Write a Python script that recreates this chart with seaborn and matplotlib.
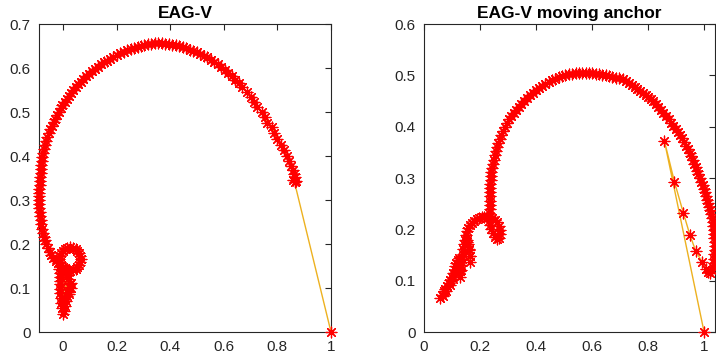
import matplotlib
matplotlib.use("Agg")
import matplotlib.pyplot as plt
import seaborn as sns
from matplotlib.ticker import FormatStrFormatter

# ---------- data ----------
# left panel: EAG-V trajectory (blob, loop, then the big arc)
left_x = [0.000, 0.004, -0.004, 0.008, -0.006, 0.012, -0.008, 0.015, -0.010, 0.018,
          -0.012, 0.022, -0.012, 0.025, -0.010, 0.020, -0.012, 0.018, -0.012, 0.012,
          -0.014, 0.006, 0.028, 0.030, 0.022,
          0.026, 0.047, 0.061, 0.067, 0.061, 0.047, 0.026, 0.006, -0.009, -0.015, -0.009, 0.006,
          0.036, 0.053, 0.063, 0.063, 0.053, 0.036, 0.016, -0.001, -0.011, -0.011, -0.001, 0.016,
          -0.012, -0.020, -0.028, -0.036, -0.043, -0.050, -0.056, -0.062, -0.067, -0.071,
          -0.075, -0.078, -0.081, -0.083, -0.085, -0.087, -0.088, -0.089, -0.089, -0.089,
          -0.089, -0.088, -0.087, -0.086, -0.085, -0.084, -0.083, -0.082, -0.080, -0.077,
          -0.074, -0.071, -0.067, -0.063, -0.058, -0.053, -0.047, -0.041, -0.035, -0.029,
          -0.023, -0.016, -0.009, -0.002, 0.006, 0.014, 0.022, 0.030, 0.039, 0.048,
          0.057, 0.066, 0.076, 0.086, 0.096, 0.107, 0.118, 0.129, 0.140, 0.152,
          0.164, 0.176, 0.188, 0.200, 0.213, 0.226, 0.239, 0.252, 0.265, 0.278,
          0.291, 0.304, 0.317, 0.330, 0.343, 0.356, 0.369, 0.382, 0.395, 0.408,
          0.421, 0.434, 0.447, 0.460, 0.473, 0.486, 0.499, 0.512, 0.525, 0.538,
          0.551, 0.564, 0.577, 0.590, 0.603, 0.616, 0.629, 0.642, 0.655, 0.668,
          0.685, 0.700, 0.712, 0.725, 0.741, 0.752, 0.763, 0.779, 0.789, 0.800,
          0.812, 0.824, 0.835, 0.844, 0.852, 0.858, 0.862, 0.866, 0.860, 0.868, 0.864]
left_y = [0.040, 0.048, 0.055, 0.060, 0.066, 0.071, 0.077, 0.082, 0.088, 0.092,
          0.098, 0.102, 0.108, 0.110, 0.116, 0.120, 0.125, 0.129, 0.134, 0.138,
          0.143, 0.146, 0.100, 0.112, 0.086,
          0.139, 0.143, 0.153, 0.166, 0.180, 0.189, 0.193, 0.189, 0.180, 0.166, 0.153, 0.143,
          0.142, 0.148, 0.160, 0.172, 0.184, 0.190, 0.190, 0.184, 0.172, 0.160, 0.148, 0.142,
          0.150, 0.156, 0.162, 0.168, 0.174, 0.182, 0.190, 0.199, 0.208, 0.217,
          0.226, 0.235, 0.245, 0.254, 0.263, 0.272, 0.281, 0.290, 0.299, 0.308,
          0.317, 0.326, 0.335, 0.344, 0.353, 0.362, 0.371, 0.380, 0.389, 0.398,
          0.407, 0.416, 0.425, 0.434, 0.443, 0.452, 0.461, 0.469, 0.477, 0.485,
          0.493, 0.501, 0.509, 0.516, 0.523, 0.530, 0.537, 0.544, 0.551, 0.557,
          0.563, 0.569, 0.575, 0.581, 0.587, 0.593, 0.598, 0.603, 0.608, 0.613,
          0.617, 0.621, 0.625, 0.629, 0.633, 0.636, 0.640, 0.643, 0.646, 0.648,
          0.650, 0.652, 0.654, 0.655, 0.656, 0.656, 0.656, 0.655, 0.654, 0.653,
          0.652, 0.650, 0.647, 0.645, 0.642, 0.639, 0.636, 0.632, 0.628, 0.624,
          0.619, 0.614, 0.608, 0.602, 0.596, 0.589, 0.581, 0.573, 0.565, 0.556,
          0.546, 0.535, 0.523, 0.512, 0.500, 0.488, 0.476, 0.466, 0.452, 0.438,
          0.425, 0.413, 0.401, 0.389, 0.378, 0.368, 0.360, 0.352, 0.346, 0.344, 0.340]

# right panel: EAG-V moving anchor trajectory
right_x = [0.058, 0.064, 0.068, 0.070, 0.076, 0.080, 0.082, 0.088, 0.092, 0.094,
           0.100, 0.104, 0.105, 0.110, 0.113, 0.112, 0.116, 0.120, 0.124, 0.128,
           0.130, 0.131, 0.130, 0.130, 0.131, 0.134, 0.138, 0.141, 0.143, 0.147,
           0.152, 0.158, 0.162, 0.165, 0.165, 0.164, 0.160, 0.154, 0.150, 0.153,
           0.158, 0.165, 0.172, 0.180, 0.189, 0.198, 0.207, 0.216, 0.225, 0.234,
           0.243, 0.252, 0.260, 0.267, 0.272, 0.273, 0.268, 0.260, 0.252, 0.245,
           0.240, 0.236, 0.233, 0.232, 0.233, 0.234, 0.234, 0.235, 0.235, 0.236,
           0.236, 0.237, 0.238, 0.240, 0.241, 0.243, 0.246, 0.249, 0.252, 0.256,
           0.260, 0.265, 0.270, 0.276, 0.282, 0.289, 0.296, 0.304, 0.312, 0.320,
           0.329, 0.338, 0.347, 0.357, 0.367, 0.377, 0.388, 0.399, 0.410, 0.421,
           0.433, 0.445, 0.457, 0.469, 0.481, 0.493, 0.505, 0.517, 0.529, 0.541,
           0.553, 0.565, 0.577, 0.589, 0.601, 0.613, 0.625,
           0.637, 0.649, 0.661, 0.673, 0.685, 0.697, 0.709, 0.720, 0.731, 0.742,
           0.752, 0.762, 0.772, 0.782, 0.792, 0.801, 0.810, 0.819, 0.828, 0.837,
           0.846, 0.855, 0.864, 0.873, 0.882, 0.890, 0.898, 0.906, 0.914, 0.921,
           0.928, 0.935, 0.942, 0.948, 0.954, 0.960, 0.965, 0.970, 0.975, 0.980,
           0.985, 0.990, 0.995, 0.999, 1.003, 1.007, 1.011, 1.015, 1.019, 1.022,
           1.025, 1.028, 1.031, 1.033, 1.035, 1.036, 1.037, 1.038, 1.038, 1.038,
           1.037, 1.036, 1.034, 1.031, 1.027, 1.021, 1.014, 1.007,
           0.992, 0.970, 0.950, 0.926, 0.894, 0.858]
right_y = [0.066, 0.072, 0.070, 0.079, 0.083, 0.080, 0.090, 0.095, 0.092, 0.102,
           0.107, 0.104, 0.114, 0.120, 0.116, 0.128, 0.135, 0.140, 0.144, 0.140,
           0.130, 0.120, 0.108, 0.118, 0.130, 0.142, 0.152, 0.162, 0.172, 0.180,
           0.180, 0.172, 0.160, 0.148, 0.136, 0.148, 0.162, 0.176, 0.188, 0.196,
           0.203, 0.209, 0.213, 0.217, 0.220, 0.222, 0.224, 0.225, 0.225, 0.224,
           0.222, 0.219, 0.214, 0.207, 0.199, 0.191, 0.184, 0.182, 0.186, 0.193,
           0.200, 0.208, 0.216, 0.224, 0.232, 0.240, 0.248, 0.256, 0.264, 0.272,
           0.280, 0.288, 0.296, 0.304, 0.312, 0.320, 0.328, 0.336, 0.344, 0.352,
           0.360, 0.368, 0.376, 0.384, 0.392, 0.400, 0.407, 0.414, 0.421, 0.427,
           0.433, 0.439, 0.445, 0.450, 0.456, 0.461, 0.466, 0.471, 0.475, 0.479,
           0.483, 0.487, 0.490, 0.493, 0.496, 0.498, 0.500, 0.502, 0.503, 0.504,
           0.505, 0.505, 0.505, 0.505, 0.504, 0.503, 0.502,
           0.501, 0.500, 0.498, 0.497, 0.495, 0.494, 0.492, 0.489, 0.486, 0.482,
           0.478, 0.474, 0.470, 0.466, 0.462, 0.458, 0.454, 0.450, 0.444, 0.438,
           0.432, 0.426, 0.420, 0.414, 0.408, 0.402, 0.396, 0.390, 0.384, 0.377,
           0.370, 0.363, 0.356, 0.349, 0.342, 0.335, 0.328, 0.321, 0.314, 0.307,
           0.300, 0.293, 0.286, 0.279, 0.272, 0.265, 0.258, 0.251, 0.244, 0.237,
           0.230, 0.223, 0.215, 0.207, 0.199, 0.191, 0.183, 0.175, 0.167, 0.159,
           0.151, 0.143, 0.135, 0.127, 0.120, 0.115, 0.116, 0.122,
           0.137, 0.158, 0.188, 0.232, 0.293, 0.373]

anchor_x = [1.0]
anchor_y = [0.0]

titles = ["EAG-V", "EAG-V moving anchor"]

# ---------- style ----------
sns.set_style("white")
plt.rcParams["font.family"] = ["Liberation Sans", "DejaVu Sans"]

fig = plt.figure(figsize=(7.16, 3.6), dpi=100)
ax1 = fig.add_axes([39 / 716, 28 / 360, 292 / 716, 308 / 360])
ax2 = fig.add_axes([424 / 716, 28 / 360, 291 / 716, 308 / 360])

panels = [
    (ax1, left_x, left_y, (-0.0896, 1.0), (0, 0.7), [0, 0.2, 0.4, 0.6, 0.8, 1], [0, 0.1, 0.2, 0.3, 0.4, 0.5, 0.6, 0.7]),
    (ax2, right_x, right_y, (0, 1.039), (0, 0.6), [0, 0.2, 0.4, 0.6, 0.8, 1], [0, 0.1, 0.2, 0.3, 0.4, 0.5, 0.6]),
]

for i, (ax, xs, ys, xl, yl, xt, yt) in enumerate(panels):
    # path through the points and on to the anchor
    sns.lineplot(x=xs + anchor_x, y=ys + anchor_y, sort=False, estimator=None,
                 color="#EDB120", linewidth=1.0, ax=ax, zorder=2)
    sns.scatterplot(x=xs + anchor_x, y=ys + anchor_y, marker=(8, 2, 0), s=60,
                    color="red", linewidth=0.9, ax=ax, zorder=3, clip_on=False)

    ax.set_xlim(*xl)
    ax.set_ylim(*yl)
    ax.set_xticks(xt)
    ax.set_yticks(yt)
    ax.xaxis.set_major_formatter(FormatStrFormatter("%g"))
    ax.yaxis.set_major_formatter(FormatStrFormatter("%g"))
    ax.tick_params(direction="in", top=True, right=True, length=4, width=0.8,
                   labelsize=11, colors="#262626", pad=6)
    for sp in ax.spines.values():
        sp.set_visible(True)
        sp.set_color("#262626")
        sp.set_linewidth(0.8)
    ax.set_xlabel("")
    ax.set_ylabel("")
    ax.set_title(titles[i], fontsize=12.5, fontweight="bold", color="black", pad=4)

plt.savefig("out.png", dpi=100)
